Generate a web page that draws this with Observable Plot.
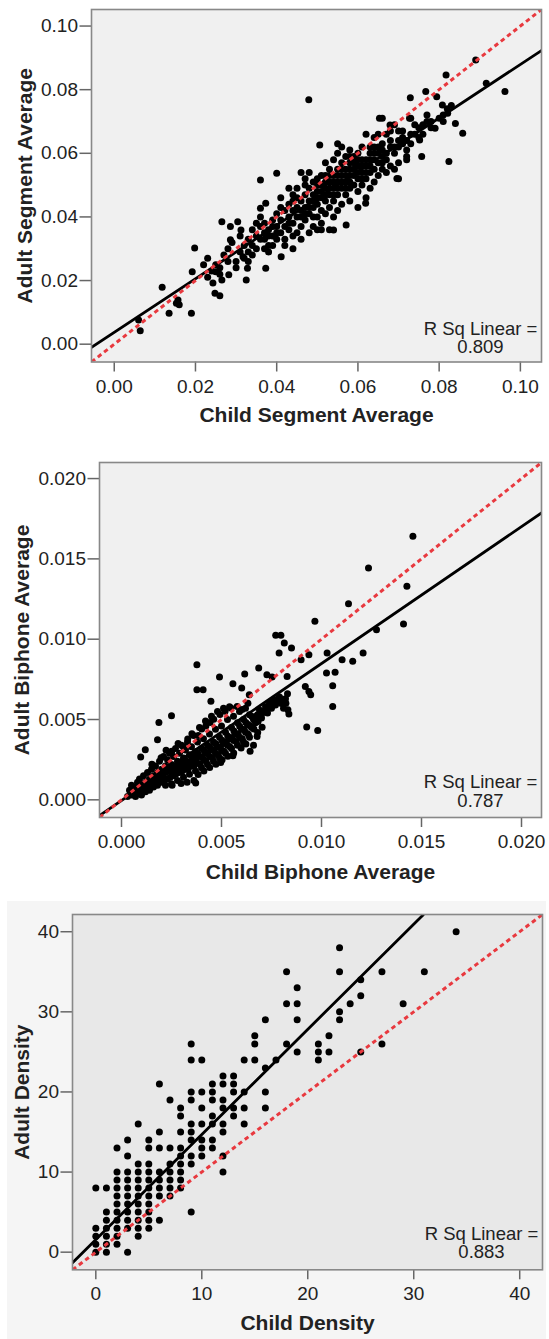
<!DOCTYPE html>
<html>
<head>
<meta charset="utf-8">
<script src="https://cdn.jsdelivr.net/npm/d3@7"></script>
<script src="https://cdn.jsdelivr.net/npm/@observablehq/plot@0.6"></script>
<style>
  body { margin: 0; background: white; font-family: Arial, "Liberation Sans", sans-serif; }
  #wrap { position: relative; width: 549px; height: 1339px; }
  #bg3 { position: absolute; left: 7px; top: 901px; width: 539px; height: 438px; background: #f5f5f5; }
  #charts { position: absolute; left: 0; top: 0; }
  #charts svg { display: block; }
</style>
</head>
<body>
<div id="wrap"><div id="bg3"></div><div id="charts"></div></div>
<script>
// ---------- Panel 1: Segment average ----------
const segChild = [0.0064,0.0060,0.0118,0.0135,0.0157,0.0160,0.0153,0.0190,0.0192,0.0198,0.0230,0.0243,0.0248,0.0260,0.0250,0.0265,0.0265,0.0286,0.0304,0.0282,0.0286,0.0325,0.0328,0.0312,0.0317,0.0360,0.0360,0.0373,0.0373,0.0400,0.0411,0.0479,0.0506,0.0540,0.0571,0.0619,0.0696,0.0729,0.0767,0.0817,0.0890,0.0916,0.0962,0.0824,0.0858,0.0840,0.0794,0.0808,0.0821,0.0790,0.0757,0.0752,0.0720,0.0727,0.0653,0.0679,
0.030,0.031,0.031,0.032,0.032,0.033,0.033,0.034,0.034,0.035,0.035,0.029,0.028,0.027,0.026,0.025,0.024,0.026,0.028,0.030,0.033,0.034,0.022,0.023,
0.036,0.036,0.037,0.037,0.038,0.038,0.039,0.039,0.040,0.040,0.040,0.038,0.037,0.039,0.036,0.035,
0.041,0.041,0.042,0.042,0.042,0.043,0.043,0.043,0.044,0.044,0.044,0.045,0.045,0.045,0.045,0.044,0.043,0.041,0.042,0.046,0.046,0.046,0.046,0.046,
0.047,0.047,0.047,0.047,0.048,0.048,0.048,0.048,0.048,0.049,0.049,0.049,0.049,0.050,0.050,0.050,0.050,0.050,0.051,0.051,0.051,0.051,0.051,
0.052,0.052,0.052,0.052,0.052,0.053,0.053,0.053,0.053,0.053,0.054,0.054,0.054,0.054,0.054,0.055,0.055,0.055,0.055,0.055,0.055,
0.056,0.056,0.056,0.056,0.056,0.057,0.057,0.057,0.057,0.058,0.058,0.058,0.058,0.058,0.059,0.059,0.059,0.060,0.060,0.060,0.060,0.060,
0.061,0.061,0.061,0.061,0.062,0.062,0.062,0.062,0.063,0.063,0.063,0.063,0.064,0.064,0.064,0.064,0.065,0.065,0.065,0.065,
0.066,0.066,0.066,0.066,0.067,0.067,0.067,0.068,0.068,0.068,0.069,0.069,0.069,0.070,0.070,0.070,0.070,0.071,0.071,
0.072,0.072,0.073,0.073,0.074,0.075,0.076,0.077,0.078,0.078,0.080,0.081,0.082,0.083,0.081,
0.041,0.043,0.044,0.045,0.046,0.047,0.048,0.049,0.050,0.050,0.051,0.052,0.052,0.053,0.053,0.054,0.054,0.055,0.055,0.056,0.056,0.057,0.057,0.058,0.058,0.059,0.059,0.060,0.060,0.061,0.061,0.062,0.062,0.063,0.063,0.064,0.065,0.066,0.066,0.067,0.068,0.069,0.070,0.071,0.072,0.073,0.074,0.075,0.076,0.077,0.064,0.058,0.047,0.049,0.051,0.044,0.040,0.039,0.038,0.037];
const segAdult = [0.0042,0.0076,0.0179,0.0097,0.0139,0.0124,0.0129,0.0097,0.0228,0.0302,0.0270,0.0192,0.0160,0.0152,0.0228,0.0202,0.0385,0.0370,0.0385,0.0218,0.0328,0.0202,0.0239,0.0359,0.0275,0.0516,0.0427,0.0443,0.0239,0.0537,0.0275,0.0768,0.0626,0.0359,0.0375,0.0443,0.0521,0.0775,0.0794,0.0846,0.0893,0.0820,0.0794,0.0574,0.0663,0.0694,0.0778,0.0752,0.0726,0.0679,0.0590,0.0642,0.0590,0.0710,0.0710,0.0689,
0.026,0.029,0.034,0.031,0.027,0.033,0.029,0.036,0.031,0.034,0.030,0.032,0.026,0.028,0.024,0.025,0.023,0.022,0.030,0.024,0.026,0.028,0.025,0.021,
0.037,0.033,0.035,0.038,0.031,0.036,0.034,0.039,0.033,0.037,0.041,0.029,0.030,0.031,0.040,0.038,
0.035,0.039,0.037,0.042,0.033,0.040,0.036,0.044,0.030,0.038,0.042,0.040,0.035,0.046,0.049,0.047,0.049,0.046,0.031,0.033,0.037,0.042,0.045,0.054,
0.039,0.043,0.047,0.052,0.035,0.041,0.045,0.049,0.054,0.037,0.043,0.047,0.051,0.040,0.044,0.048,0.052,0.036,0.038,0.042,0.046,0.050,0.053,
0.041,0.045,0.049,0.053,0.057,0.036,0.043,0.047,0.051,0.055,0.040,0.045,0.049,0.053,0.058,0.042,0.047,0.051,0.055,0.060,0.063,
0.044,0.049,0.053,0.057,0.062,0.047,0.051,0.055,0.059,0.045,0.049,0.053,0.057,0.061,0.050,0.055,0.059,0.043,0.048,0.052,0.056,0.060,
0.050,0.054,0.058,0.062,0.046,0.052,0.056,0.066,0.049,0.054,0.058,0.062,0.051,0.055,0.060,0.065,0.053,0.057,0.062,0.066,
0.055,0.059,0.063,0.071,0.054,0.058,0.066,0.056,0.062,0.067,0.055,0.060,0.069,0.052,0.057,0.064,0.067,0.063,0.067,
0.058,0.064,0.071,0.066,0.069,0.065,0.069,0.072,0.070,0.068,0.071,0.072,0.074,0.075,0.070,
0.043,0.038,0.045,0.043,0.040,0.041,0.043,0.045,0.046,0.050,0.048,0.047,0.051,0.049,0.053,0.051,0.047,0.049,0.053,0.051,0.055,0.053,0.049,0.055,0.051,0.053,0.057,0.054,0.058,0.056,0.052,0.054,0.058,0.056,0.060,0.058,0.060,0.061,0.057,0.060,0.064,0.062,0.062,0.065,0.061,0.063,0.066,0.068,0.066,0.070,0.062,0.059,0.050,0.040,0.036,0.034,0.035,0.037,0.034,0.033];
const segFitX = [-0.0056, 0.1053];
const segFitY = [-0.0010, 0.0924];
const segRsq = "0.809";

// ---------- Panel 2: Biphone average ----------
const biChild = [0.01457,0.01235,0.01427,0.01135,0.00967,0.01410,0.01275,0.00771,0.00797,0.00814,0.00850,0.00788,0.00937,0.00898,0.01028,0.01208,0.01103,0.01156,0.00377,0.00686,0.00490,0.00616,0.00727,0.00753,0.00828,0.01025,0.01068,0.01056,0.00919,0.00937,0.00946,0.00557,0.00377,0.00408,0.00601,0.00639,0.00447,0.00250,0.00187,0.01056,0.00926,0.00981,0.00832,0.00837,0.00678,0.00557,0.00496,0.00371,0.00119,0.00096,0.00180,
0.0003,0.0004,0.0005,0.0005,0.0006,0.0007,0.0007,0.0008,0.0008,0.0009,0.0009,0.0010,0.0010,0.0011,0.0011,0.0012,0.0012,0.0013,0.0013,0.0014,0.0014,0.0015,0.0015,0.0016,0.0016,0.0017,0.0017,0.0018,0.0018,0.0019,0.0019,0.0020,0.0020,
0.0021,0.0021,0.0022,0.0022,0.0023,0.0023,0.0024,0.0024,0.0025,0.0025,0.0026,0.0026,0.0027,0.0027,0.0028,0.0028,0.0029,0.0029,0.0030,0.0030,0.0031,0.0031,0.0032,0.0032,0.0033,0.0033,0.0034,0.0034,0.0035,0.0035,0.0036,0.0036,0.0037,0.0037,0.0038,0.0038,0.0039,0.0039,0.0040,0.0040,
0.0041,0.0041,0.0042,0.0042,0.0043,0.0043,0.0044,0.0044,0.0045,0.0045,0.0046,0.0046,0.0047,0.0047,0.0048,0.0048,0.0049,0.0049,0.0050,0.0050,0.0051,0.0051,0.0052,0.0052,0.0053,0.0053,0.0054,0.0054,0.0055,0.0055,0.0056,0.0056,0.0057,0.0058,0.0058,0.0059,0.0059,0.0060,
0.0061,0.0061,0.0062,0.0062,0.0063,0.0064,0.0064,0.0065,0.0066,0.0066,0.0067,0.0068,0.0069,0.0070,0.0071,0.0072,0.0073,0.0074,0.0075,0.0076,0.0077,0.0078,0.0079,0.0080,0.0081,0.0082,0.0083,
0.00125,0.00145,0.00162,0.00178,0.00203,0.00212,0.00221,0.00234,0.00243,0.00256,0.00263,0.00272,0.00284,0.00291,0.00305,0.00312,0.00318,0.00333,0.00342,0.00351,0.00363,0.00372,0.00381,0.00393,0.00404,0.00412,0.00423,0.00431,0.00442,0.00455,0.00463,0.00472,0.00484,0.00493,0.00502,0.00512,0.00523,0.00531,0.00542,0.00553,0.00562,0.00574,0.00583,0.00591,0.00604,0.00613,0.00622,0.00634,0.00641,0.00652,0.00662,0.00671,0.00683,0.00694,0.00702,0.00722,0.00741,0.00763,0.00782,0.00803,0.00822,
0.00152,0.00198,0.00223,0.00251,0.00283,0.00309,0.00331,0.00352,0.00384,0.00401,0.00422,0.00443,0.00461,0.00492,0.00518,0.00547,0.00578,0.00603,0.00632,
0.00253,0.00298,0.00328,0.00362,0.00383,0.00412,0.00441,0.00472,0.00503,0.00532,0.00561,0.00598,0.00622,0.00643,0.00681,0.00703];
const biAdult = [0.01641,0.01443,0.01329,0.01221,0.01111,0.01094,0.01059,0.01024,0.01024,0.00976,0.00945,0.00914,0.00903,0.00872,0.00914,0.00914,0.00872,0.00862,0.00841,0.00820,0.00764,0.00783,0.00779,0.00764,0.00768,0.00789,0.00795,0.00710,0.00706,0.00675,0.00654,0.00723,0.00685,0.00685,0.00696,0.00654,0.00613,0.00523,0.00482,0.00581,0.00453,0.00432,0.00561,0.00534,0.00395,0.00274,0.00233,0.00104,0.00312,0.00266,0.00374,
0.0002,0.0006,0.0003,0.0009,0.0005,0.0002,0.0008,0.0011,0.0004,0.0006,0.0013,0.0003,0.0009,0.0007,0.0015,0.0005,0.0011,0.0009,0.0017,0.0006,0.0013,0.0010,0.0019,0.0008,0.0015,0.0012,0.0021,0.0009,0.0017,0.0014,0.0024,0.0011,0.0019,
0.0016,0.0027,0.0009,0.0021,0.0013,0.0025,0.0018,0.0029,0.0010,0.0022,0.0015,0.0027,0.0019,0.0032,0.0012,0.0024,0.0017,0.0029,0.0021,0.0034,0.0014,0.0026,0.0019,0.0031,0.0023,0.0036,0.0016,0.0028,0.0021,0.0033,0.0025,0.0040,0.0018,0.0030,0.0023,0.0036,0.0027,0.0045,0.0020,0.0032,
0.0025,0.0038,0.0029,0.0049,0.0022,0.0034,0.0027,0.0041,0.0031,0.0052,0.0024,0.0036,0.0029,0.0044,0.0033,0.0055,0.0026,0.0039,0.0031,0.0046,0.0035,0.0057,0.0029,0.0042,0.0034,0.0050,0.0038,0.0058,0.0032,0.0045,0.0037,0.0052,0.0041,0.0034,0.0048,0.0039,0.0055,0.0044,
0.0036,0.0050,0.0042,0.0057,0.0047,0.0039,0.0053,0.0045,0.0050,0.0034,0.0048,0.0053,0.0056,0.0051,0.0055,0.0058,0.0054,0.0060,0.0057,0.0062,0.0059,0.0061,0.0064,0.0060,0.0057,0.0063,0.0066,
0.00081,0.00098,0.00118,0.00131,0.00152,0.00122,0.00171,0.00188,0.00141,0.00179,0.00208,0.00161,0.00199,0.00228,0.00181,0.00222,0.00249,0.00191,0.00238,0.00271,0.00212,0.00259,0.00288,0.00221,0.00268,0.00309,0.00241,0.00291,0.00328,0.00262,0.00311,0.00349,0.00281,0.00329,0.00371,0.00302,0.00358,0.00398,0.00331,0.00388,0.00428,0.00361,0.00411,0.00458,0.00381,0.00438,0.00482,0.00409,0.00462,0.00518,0.00441,0.00519,0.00488,0.00521,0.00538,0.00561,0.00579,0.00592,0.00628,0.00621,0.00601,
0.00221,0.00262,0.00309,0.00302,0.00351,0.00331,0.00379,0.00412,0.00401,0.00441,0.00459,0.00481,0.00502,0.00531,0.00551,0.00572,0.00581,0.00562,0.00601,
0.00091,0.00101,0.00109,0.00121,0.00158,0.00179,0.00201,0.00222,0.00249,0.00271,0.00291,0.00322,0.00348,0.00302,0.00419,0.00452];
const biFitX = [-0.0011, 0.0210];
const biFitY = [-0.00098, 0.01786];
const biRsq = "0.787";

// ---------- Panel 3: Density ----------
const denChild = [34,23,18,23,27,31,25,19,25,18,19,24,29,23,16,19,23,15,22,9,15,18,21,27,19,21,22,25,9,10,14,15,17,21,16,12,13,6,11,12,13,9,10,11,13,14,16,7,9,11,12,8,10,12,13,14,16,8,11,13,4,9,10,11,12,14,6,8,9,12,3,5,9,10,11,2,5,6,7,8,10,11,3,8,9,10,12,4,5,7,8,9,2,3,4,5,6,7,8,12,
2,3,4,5,6,7,8, 0,1,2,3,4,5,6,7,8, 2,3,4,5,6,7, 2,3,4,5, 1,2,3,4,5,9, 1,2,3,4,5,6, 0,1,2,3,4,5, 0,1,2,4, 0,1,2, 0,1,3];
const denAdult = [40,38,35,35,35,35,34,33,32,31,31,31,31,30,29,29,29,27,27,26,26,26,26,26,25,25,25,25,24,24,24,24,24,24,23,22,22,21,21,21,21,20,20,20,20,20,20,19,19,19,19,18,18,18,18,18,18,17,17,17,16,16,16,16,16,16,15,15,15,15,14,14,14,14,14,13,13,13,13,13,13,13,12,12,12,12,12,11,11,11,11,11,10,10,10,10,10,10,10,10,
9,9,9,9,9,9,9, 8,8,8,8,8,8,8,8,8, 7,7,7,7,7,7, 6,6,6,6, 5,5,5,5,5,5, 4,4,4,4,4,4, 3,3,3,3,3,3, 2,2,2,2, 1,1,1, 0,0,0];
const denFitX = [-2.27, 30.9];
const denFitY = [-1.41, 42.12];
const denRsq = "0.883";

const FONT = "Arial, 'Liberation Sans', sans-serif";
const INK = "#222";
const RED = "#e8393f";

function panel(cfg) {
  const pts = cfg.xs.map((x, i) => ({x, y: cfg.ys[i]}));
  const fit = cfg.fitX.map((x, i) => ({x, y: cfg.fitY[i]}));
  const diag = cfg.domain.map(v => ({x: v, y: v}));
  return Plot.plot({
    width: 549,
    height: cfg.height,
    marginLeft: cfg.ml, marginRight: cfg.mr, marginTop: cfg.mt, marginBottom: cfg.mb,
    style: {fontFamily: FONT, background: "transparent", overflow: "visible"},
    x: {domain: cfg.domain},
    y: {domain: cfg.domain},
    marks: [
      Plot.frame({fill: cfg.fill, stroke: null}),
      Plot.axisX({ticks: cfg.ticks, tickFormat: cfg.fmt, tickSize: 10, tickPadding: 7, fontSize: 19, stroke: "#666", strokeWidth: 1.5, fill: INK, label: null}),
      Plot.axisY({ticks: cfg.ticks, tickFormat: cfg.fmt, tickSize: 11.5, tickPadding: 2, fontSize: 19, stroke: "#666", strokeWidth: 1.5, fill: INK, label: null}),
      Plot.dot(pts, {x: "x", y: "y", r: 3.5, fill: "black", stroke: null}),
      Plot.line(fit, {x: "x", y: "y", stroke: "black", strokeWidth: 2.8, clip: true}),
      Plot.line(diag, {x: "x", y: "y", stroke: RED, strokeWidth: 3, strokeDasharray: "4.5,3.5", strokeLinecap: "butt", clip: true}),
      Plot.frame({stroke: "#888", strokeWidth: 1.6}),
      Plot.text([cfg.xTitle], {frameAnchor: "bottom", dy: cfg.xTitleDy, textAnchor: "middle", lineAnchor: "middle", fontSize: 21, fontWeight: "bold", fill: INK}),
      Plot.text([cfg.yTitle], {frameAnchor: "left", dx: cfg.yTitleDx, rotate: -90, textAnchor: "middle", lineAnchor: "middle", fontSize: 21, fontWeight: "bold", fill: INK}),
      Plot.text(["R Sq Linear =\n" + cfg.rsq], {frameAnchor: "bottom-right", dx: -61, dy: cfg.rsqDy, textAnchor: "middle", lineAnchor: "middle", lineHeight: 1.0, fontSize: 18.5, fill: INK})
    ]
  });
}

const charts = document.getElementById("charts");
charts.appendChild(panel({
  xs: segChild, ys: segAdult, fitX: segFitX, fitY: segFitY, rsq: segRsq,
  height: 440, ml: 91, mr: 8, mt: 9, mb: 78.5,
  domain: [-0.0056, 0.1052], ticks: [0, 0.02, 0.04, 0.06, 0.08, 0.10], fmt: d3.format(".2f"),
  fill: "#f0f0f0", xTitle: "Child Segment Average", yTitle: "Adult Segment Average",
  xTitleDy: 53.5, yTitleDx: -66, rsqDy: -24
}));
charts.appendChild(panel({
  xs: biChild, ys: biAdult, fitX: biFitX, fitY: biFitY, rsq: biRsq,
  height: 450, ml: 99, mr: 8, mt: 22, mb: 73,
  domain: [-0.0011, 0.0210], ticks: [0, 0.005, 0.010, 0.015, 0.020], fmt: d3.format(".3f"),
  fill: "#f0f0f0", xTitle: "Child Biphone Average", yTitle: "Adult Biphone Average",
  xTitleDy: 54.7, yTitleDx: -77, rsqDy: -26
}));
charts.appendChild(panel({
  xs: denChild, ys: denAdult, fitX: denFitX, fitY: denFitY, rsq: denRsq,
  height: 449, ml: 72, mr: 7, mt: 24, mb: 69.7,
  domain: [-2.2, 42.15], ticks: [0, 10, 20, 30, 40], fmt: d3.format("d"),
  fill: "#e8e8e8", xTitle: "Child Density", yTitle: "Adult Density",
  xTitleDy: 53.7, yTitleDx: -50, rsqDy: -26.5
}));
</script>
</body>
</html>
